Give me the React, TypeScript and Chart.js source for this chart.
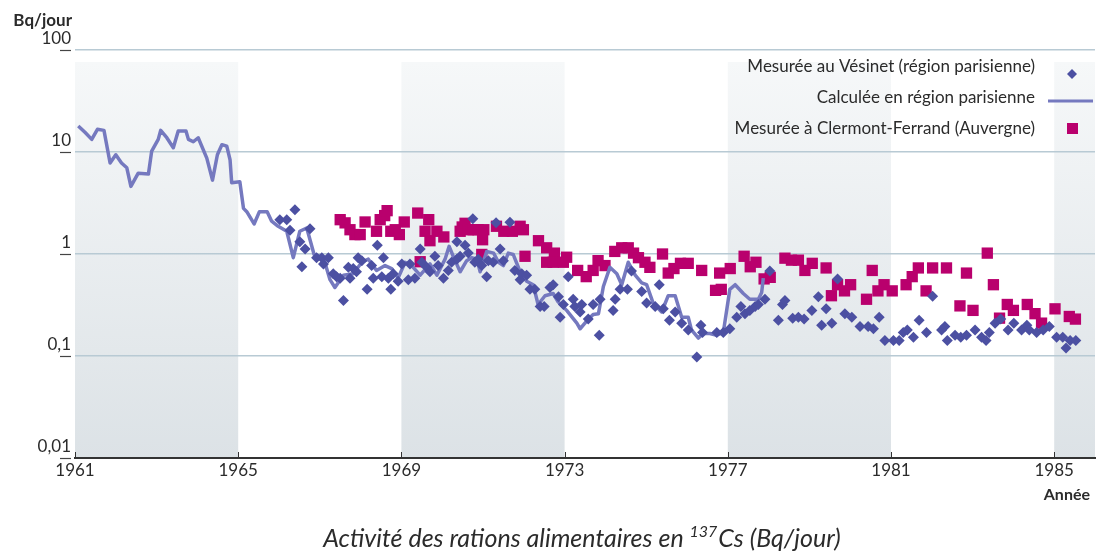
import React, { useEffect, useRef } from "react";
import { Chart, registerables } from "chart.js";

Chart.register(...registerables);

// ---- Axis / ticks ----
const yTickValues = [0.01, 0.1, 1, 10, 100];
const yTickLabels = ["0,01", "0,1", "1", "10", "100"];
const xTickYears = [1961, 1965, 1969, 1973, 1977, 1981, 1985];
const shadedPeriods = [
  [1961, 1965],
  [1969, 1973],
  [1977, 1981],
  [1985, 1986],
];

// ---- Series labels ----
const labelVesinet = "Mesurée au Vésinet (région parisienne)";
const labelCalc = "Calculée en région parisienne";
const labelClermont = "Mesurée à Clermont-Ferrand (Auvergne)";

// ---- Calculée en région parisienne (line) ----
const calcYears = [
  1961.08, 1961.25, 1961.41, 1961.55, 1961.71, 1961.86, 1962.0, 1962.14, 1962.27, 1962.37,
  1962.55, 1962.8, 1962.88, 1963.04, 1963.1, 1963.25, 1963.41, 1963.53, 1963.72, 1963.78,
  1963.9, 1964.02, 1964.23, 1964.37, 1964.49, 1964.6, 1964.72, 1964.8, 1964.84, 1965.04,
  1965.13, 1965.21, 1965.39, 1965.52, 1965.71, 1965.82, 1965.98, 1966.19, 1966.35, 1966.51,
  1966.68, 1966.86, 1967.09, 1967.25, 1967.37, 1967.58, 1967.82, 1968.03, 1968.19, 1968.39,
  1968.6, 1968.76, 1968.92, 1969.09, 1969.25, 1969.46, 1969.7, 1969.87, 1970.07, 1970.17,
  1970.27, 1970.44, 1970.6, 1970.72, 1970.85, 1970.93, 1971.09, 1971.26, 1971.38, 1971.5,
  1971.62, 1971.74, 1971.91, 1972.07, 1972.23, 1972.35, 1972.52, 1972.72, 1972.84, 1973.05,
  1973.3, 1973.38, 1973.54, 1973.7, 1973.83, 1973.95, 1974.11, 1974.28, 1974.4, 1974.56,
  1974.73, 1974.89, 1975.01, 1975.17, 1975.38, 1975.54, 1975.71, 1975.87, 1976.03, 1976.11,
  1976.28, 1976.4, 1976.56, 1976.73, 1976.89, 1977.05, 1977.18, 1977.38, 1977.54, 1977.75,
  1977.83, 1977.87,
];
const calcValues = [
  18.0, 15.5, 13.3, 16.7, 16.3, 7.8, 9.4, 7.8, 7.0, 4.6,
  6.2, 6.1, 10.2, 13.3, 16.3, 13.8, 11.0, 16.1, 16.1, 13.3,
  12.6, 13.8, 8.7, 5.3, 9.4, 11.8, 11.4, 8.4, 5.0, 5.1,
  2.8, 2.6, 1.97, 2.6, 2.6, 2.1, 1.87, 1.67, 0.92, 1.67,
  1.8, 0.99, 0.92, 0.56, 0.47, 0.62, 0.64, 0.83, 0.89, 0.69,
  0.77, 0.72, 0.58, 0.83, 0.77, 0.62, 0.8, 0.62, 0.89, 1.19,
  0.95, 0.67, 0.86, 0.92, 0.89, 0.67, 1.06, 1.02, 0.83, 0.77,
  1.02, 0.99, 0.67, 0.54, 0.5, 0.32, 0.39, 0.41, 0.34, 0.28,
  0.21, 0.185, 0.22, 0.255, 0.26, 0.48, 0.74, 0.64, 0.5, 0.83,
  0.62, 0.52, 0.5, 0.33, 0.27, 0.39, 0.39, 0.24, 0.24, 0.18,
  0.15, 0.166, 0.166, 0.16, 0.17, 0.45, 0.5, 0.41, 0.36, 0.36,
  0.42, 0.58,
];

// ---- Mesurée au Vésinet (diamonds) ----
const vesinetYears = [
  1966.02, 1966.19, 1966.39, 1966.27, 1966.76, 1966.51, 1966.64, 1966.56, 1966.92, 1967.05,
  1967.21, 1967.09, 1967.33, 1967.41, 1967.5, 1967.58, 1967.7, 1967.74, 1967.82, 1967.94,
  1968.03, 1967.9, 1968.16, 1968.27, 1968.31, 1968.41, 1968.56, 1968.52, 1968.68, 1968.74,
  1968.8, 1968.92, 1969.01, 1969.17, 1969.21, 1969.33, 1969.46, 1969.5, 1969.62, 1969.7,
  1969.82, 1969.9, 1970.03, 1970.15, 1970.23, 1970.36, 1970.36, 1970.44, 1970.56, 1970.64,
  1970.75, 1970.8, 1970.88, 1970.97, 1971.09, 1971.13, 1971.25, 1971.32, 1971.42, 1971.5,
  1971.66, 1971.78, 1971.91, 1971.95, 1972.07, 1972.15, 1972.27, 1972.4, 1972.5, 1972.64,
  1972.72, 1972.85, 1972.89, 1972.97, 1973.09, 1973.21, 1973.25, 1973.38, 1973.42, 1973.58,
  1973.7, 1973.85, 1973.87, 1974.19, 1974.24, 1974.36, 1974.54, 1974.64, 1974.89, 1975.01,
  1975.22, 1975.32, 1975.42, 1975.57, 1975.71, 1975.87, 1976.03, 1976.24, 1976.34, 1976.38,
  1976.73, 1976.89, 1977.05, 1977.22, 1977.32, 1977.42, 1977.54, 1977.67, 1977.75, 1977.91,
  1978.03, 1978.24, 1978.34, 1978.4, 1978.59, 1978.73, 1978.87, 1979.06, 1979.22, 1979.3,
  1979.41, 1979.55, 1979.69, 1979.87, 1980.04, 1980.24, 1980.44, 1980.57, 1980.71, 1980.85,
  1981.06, 1981.2, 1981.3, 1981.4, 1981.55, 1981.69, 1981.87, 1982.02, 1982.24, 1982.32,
  1982.38, 1982.57, 1982.71, 1982.85, 1983.06, 1983.22, 1983.33, 1983.41, 1983.55, 1983.69,
  1983.87, 1984.01, 1984.2, 1984.33, 1984.39, 1984.57, 1984.73, 1984.88, 1985.06, 1985.21,
  1985.29, 1985.39, 1985.53,
];
const vesinetValues = [
  2.17, 2.17, 2.72, 1.71, 1.77, 1.32, 1.12, 0.75, 0.92, 0.92,
  0.92, 0.8, 0.64, 0.6, 0.58, 0.35, 0.74, 0.58, 0.72, 0.92,
  0.86, 0.67, 0.45, 0.77, 0.58, 1.22, 0.92, 0.6, 0.58, 0.45,
  0.64, 0.54, 0.8, 0.56, 0.8, 0.58, 1.12, 0.83, 0.74, 0.67,
  0.95, 0.77, 0.58, 0.69, 0.83, 0.89, 1.32, 0.95, 1.22, 1.02,
  2.21, 0.83, 0.89, 0.77, 0.6, 0.86, 0.83, 2.02, 1.12, 0.86,
  2.05, 0.69, 0.56, 0.64, 0.62, 0.45, 0.45, 0.305, 0.305, 0.47,
  0.5, 0.38, 0.24, 0.32, 0.6, 0.36, 0.305, 0.27, 0.32, 0.23,
  0.32, 0.16, 0.36, 0.28, 0.36, 0.45, 0.45, 0.68, 0.43, 0.33,
  0.305, 0.5, 0.29, 0.224, 0.27, 0.21, 0.18, 0.098, 0.2, 0.17,
  0.17, 0.17, 0.185, 0.24, 0.305, 0.26, 0.28, 0.305, 0.32, 0.36,
  0.68, 0.224, 0.32, 0.35, 0.234, 0.24, 0.23, 0.28, 0.38, 0.2,
  0.29, 0.21, 0.57, 0.26, 0.24, 0.195, 0.195, 0.185, 0.24, 0.142,
  0.142, 0.142, 0.17, 0.18, 0.153, 0.224, 0.17, 0.385, 0.18, 0.195,
  0.142, 0.16, 0.153, 0.16, 0.18, 0.153, 0.142, 0.17, 0.21, 0.23,
  0.18, 0.21, 0.18, 0.2, 0.18, 0.17, 0.18, 0.195, 0.153, 0.153,
  0.12, 0.142, 0.142,
];

// ---- Mesurée à Clermont-Ferrand (squares) ----
const clermontYears = [
  1967.5, 1967.62, 1967.74, 1967.86, 1967.99, 1968.11, 1968.39, 1968.48, 1968.59, 1968.65,
  1968.74, 1968.85, 1968.95, 1969.07, 1969.4, 1969.58, 1969.67, 1969.7, 1969.87, 1970.04,
  1969.46, 1970.44, 1970.49, 1970.56, 1970.64, 1970.76, 1970.88, 1970.99, 1971.02, 1970.97,
  1971.33, 1971.51, 1971.72, 1971.91, 1971.99, 1972.03, 1972.36, 1972.56, 1972.75, 1972.56,
  1972.72, 1972.97, 1973.05, 1973.32, 1973.53, 1973.7, 1973.82, 1973.99, 1974.23, 1974.4,
  1974.56, 1974.69, 1974.81, 1974.97, 1975.09, 1975.4, 1975.54, 1975.68, 1975.84, 1976.03,
  1976.36, 1976.7, 1976.84, 1976.8, 1977.06, 1977.4, 1977.55, 1977.69, 1977.89, 1978.04,
  1978.4, 1978.56, 1978.73, 1978.89, 1979.07, 1979.41, 1979.54, 1979.69, 1979.86, 1980.01,
  1980.4, 1980.54, 1980.68, 1980.83, 1981.03, 1981.37, 1981.52, 1981.67, 1981.86, 1982.02,
  1982.36, 1982.85, 1982.69, 1983.01, 1983.36, 1983.51, 1983.66, 1983.85, 1984.0, 1984.34,
  1984.53, 1984.69, 1985.02, 1985.37, 1985.52,
];
const clermontValues = [
  2.17, 2.02, 1.73, 1.55, 1.55, 2.06, 1.67, 2.17, 2.38, 2.66,
  1.67, 1.73, 1.55, 2.06, 2.52, 1.67, 2.17, 1.35, 1.67, 1.47,
  0.84, 1.67, 1.84, 2.0, 1.73, 1.73, 1.73, 1.38, 1.73, 0.99,
  1.87, 1.67, 1.67, 1.87, 1.73, 0.95, 1.35, 1.15, 1.02, 0.83,
  0.83, 0.83, 0.93, 0.69, 0.6, 0.69, 0.86, 0.77, 1.06, 1.15,
  1.15, 1.02, 0.92, 0.83, 0.74, 1.0, 0.65, 0.72, 0.81, 0.81,
  0.69, 0.44, 0.45, 0.65, 0.72, 0.95, 0.75, 0.83, 0.57, 0.59,
  0.91, 0.87, 0.87, 0.69, 0.81, 0.73, 0.39, 0.5, 0.435, 0.5,
  0.36, 0.69, 0.435, 0.5, 0.435, 0.5, 0.6, 0.73, 0.435, 0.73,
  0.73, 0.65, 0.31, 0.28, 1.02, 0.5, 0.235, 0.32, 0.28, 0.32,
  0.26, 0.21, 0.29, 0.244, 0.23,
];

const toPoints = (xs: number[], ys: number[]) => xs.map((x, i) => ({ x, y: ys[i] }));

const COLOR_DIAMOND = "#4c50a2";
const COLOR_LINE = "#7579bf";
const COLOR_SQUARE = "#b9006d";
const TEXT = "#2b2b2b";
const FONT = "Lato, 'Open Sans', sans-serif";

const decorPlugin = {
  id: "decor",
  beforeDraw(chart: any) {
    const { ctx, chartArea, scales } = chart;
    const xs = scales.x;
    const top = chartArea.top + 12;
    const bottom = chartArea.bottom;
    const g = ctx.createLinearGradient(0, top, 0, bottom);
    g.addColorStop(0, "#f6f8f9");
    g.addColorStop(1, "#dce2e6");
    ctx.save();
    ctx.fillStyle = g;
    for (const [a, b] of shadedPeriods) {
      const x1 = xs.getPixelForValue(a);
      const x2 = xs.getPixelForValue(b);
      ctx.fillRect(x1, top, x2 - x1, bottom - top);
    }
    ctx.restore();
  },
  afterDraw(chart: any) {
    const { ctx, chartArea, scales } = chart;
    const xs = scales.x;
    const ys = scales.y;
    ctx.save();
    // y tick dashes
    ctx.strokeStyle = "#444";
    ctx.lineWidth = 1.2;
    for (const v of yTickValues) {
      const py = Math.round(ys.getPixelForValue(v)) + 0.5;
      ctx.beginPath();
      ctx.moveTo(chartArea.left - 15, py);
      ctx.lineTo(chartArea.left - 4, py);
      ctx.stroke();
    }
    // x tick marks
    ctx.strokeStyle = "#333";
    ctx.lineWidth = 1;
    for (const yr of xTickYears) {
      const px = Math.round(xs.getPixelForValue(yr)) + 0.5;
      ctx.beginPath();
      ctx.moveTo(px, chartArea.bottom - 6);
      ctx.lineTo(px, chartArea.bottom);
      ctx.stroke();
    }
    // axis titles
    ctx.fillStyle = TEXT;
    ctx.font = `bold 17px ${FONT}`;
    ctx.textAlign = "right";
    ctx.textBaseline = "alphabetic";
    ctx.fillText("Bq/jour", chartArea.left - 3, 26);
    ctx.font = `bold 16px ${FONT}`;
    ctx.fillText("Année", 1090, 500);

    // legend
    ctx.font = `17px ${FONT}`;
    ctx.fillStyle = TEXT;
    const lx = 1035;
    ctx.fillText(labelVesinet, lx, 71.5);
    ctx.fillText(labelCalc, lx, 102.5);
    ctx.fillText(labelClermont, lx, 134);
    // diamond
    ctx.fillStyle = COLOR_DIAMOND;
    ctx.beginPath();
    ctx.moveTo(1072, 69);
    ctx.lineTo(1077, 74);
    ctx.lineTo(1072, 79);
    ctx.lineTo(1067, 74);
    ctx.closePath();
    ctx.fill();
    // line
    ctx.strokeStyle = COLOR_LINE;
    ctx.lineWidth = 3;
    ctx.beginPath();
    ctx.moveTo(1048, 101);
    ctx.lineTo(1093, 101);
    ctx.stroke();
    // square
    ctx.fillStyle = COLOR_SQUARE;
    ctx.fillRect(1067, 123, 11, 11);

    // title with superscript
    const p1 = "Activité des rations alimentaires en ";
    const sup = "137";
    const p2 = "Cs (Bq/jour)";
    const mainFont = `italic 25px ${FONT}`;
    const supFont = `italic 16px ${FONT}`;
    ctx.font = mainFont;
    const w1 = ctx.measureText(p1).width;
    const w2 = ctx.measureText(p2).width;
    ctx.font = supFont;
    const ws = ctx.measureText(sup).width;
    const total = w1 + ws + 1 + w2;
    let tx = 582 - total / 2;
    const base = 547;
    ctx.textAlign = "left";
    ctx.fillStyle = TEXT;
    ctx.font = mainFont;
    ctx.fillText(p1, tx, base);
    tx += w1;
    ctx.font = supFont;
    ctx.fillText(sup, tx, base - 10);
    tx += ws + 1;
    ctx.font = mainFont;
    ctx.fillText(p2, tx, base);
    ctx.restore();
  },
};

export default function App() {
  const canvasRef = useRef<HTMLCanvasElement | null>(null);

  useEffect(() => {
    const canvas = canvasRef.current;
    if (!canvas) return;
    const chart = new Chart(canvas, {
      type: "scatter",
      data: {
        datasets: [
          {
            label: labelVesinet,
            data: toPoints(vesinetYears, vesinetValues),
            pointStyle: "rectRot",
            pointRadius: 5.5,
            backgroundColor: COLOR_DIAMOND,
            borderColor: COLOR_DIAMOND,
            borderWidth: 0,
            order: 0,
          },
          {
            label: labelCalc,
            data: toPoints(calcYears, calcValues),
            showLine: true,
            pointRadius: 0,
            borderColor: COLOR_LINE,
            borderWidth: 3.5,
            borderJoinStyle: "round",
            tension: 0,
            order: 1,
          },
          {
            label: labelClermont,
            data: toPoints(clermontYears, clermontValues),
            pointStyle: "rect",
            pointRadius: 8,
            backgroundColor: COLOR_SQUARE,
            borderColor: COLOR_SQUARE,
            borderWidth: 0,
            order: 2,
          },
        ],
      } as any,
      options: {
        responsive: false,
        animation: false,
        events: [],
        layout: { padding: { left: 0, top: 50, right: 11, bottom: 65 } },
        plugins: {
          legend: { display: false },
          tooltip: { enabled: false },
          title: { display: false },
        },
        scales: {
          x: {
            type: "linear",
            min: 1961,
            max: 1986,
            afterBuildTicks: (s: any) => {
              s.ticks = xTickYears.map((v) => ({ value: v }));
            },
            afterFit: (s: any) => {
              s.height = 30;
            },
            grid: { display: false, drawTicks: false },
            border: { display: true, color: "#333", width: 2 },
            ticks: {
              padding: 2,
              autoSkip: false,
              maxRotation: 0,
              color: TEXT,
              font: { family: FONT, size: 17 },
              callback: (v: any) => String(v),
            },
          },
          y: {
            type: "logarithmic",
            min: 0.01,
            max: 100,
            afterBuildTicks: (s: any) => {
              s.ticks = yTickValues.map((v) => ({ value: v }));
            },
            afterFit: (s: any) => {
              s.width = 75;
            },
            grid: {
              drawTicks: false,
              lineWidth: 1.5,
              color: (c: any) => (c.tick && c.tick.value === 0.01 ? "rgba(0,0,0,0)" : "#b8cad4"),
            },
            border: { display: false },
            ticks: {
              padding: 4,
              labelOffset: -11,
              autoSkip: false,
              color: TEXT,
              font: { family: FONT, size: 17 },
              callback: (v: any) => {
                const i = yTickValues.indexOf(Number(v));
                return i >= 0 ? yTickLabels[i] : "";
              },
            },
          },
        },
      } as any,
      plugins: [decorPlugin],
    });
    return () => chart.destroy();
  }, []);

  return (
    <div style={{ position: "absolute", left: 0, top: 0, width: 1106, height: 553, background: "#fff" }}>
      <canvas ref={canvasRef} width={1106} height={553} style={{ display: "block" }} />
    </div>
  );
}
